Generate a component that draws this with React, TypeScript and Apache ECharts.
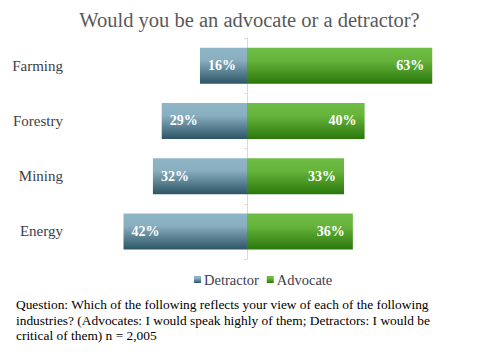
import React, { useEffect, useRef } from "react";
import * as echarts from "echarts";

const categories = ["Farming", "Forestry", "Mining", "Energy"];
const detractor = [16, 29, 32, 42];
const advocate = [63, 40, 33, 36];
const titleText = "Would you be an advocate or a detractor?";
const footnoteLines = [
  "Question: Which of the following reflects your view of each of the following",
  "industries? (Advocates: I would speak highly of them; Detractors: I would be",
  "critical of them) n = 2,005",
];

const FONT = "Liberation Serif";

export default function App() {
  const ref = useRef<HTMLDivElement>(null);
  useEffect(() => {
    document.body.style.margin = "0";
    const chart = echarts.init(ref.current!, null, { renderer: "svg" });
    const cats = [...categories].reverse();
    const det = [...detractor].reverse().map((v) => -v);
    const adv = [...advocate].reverse();
    const detGrad = new echarts.graphic.LinearGradient(0, 0, 0, 1, [
      { offset: 0, color: "#8fb6c7" },
      { offset: 0.35, color: "#88aebf" },
      { offset: 1, color: "#2d5566" },
    ]);
    const advGrad = new echarts.graphic.LinearGradient(0, 0, 0, 1, [
      { offset: 0, color: "#70bd45" },
      { offset: 0.35, color: "#67b43c" },
      { offset: 1, color: "#2a780b" },
    ]);
    chart.setOption({
      animation: false,
      backgroundColor: "#ffffff",
      textStyle: { fontFamily: FONT },
      title: {
        text: titleText,
        left: "center",
        top: 4,
        textStyle: { fontFamily: FONT, fontSize: 20.5, fontWeight: "normal", color: "#595959" },
      },
      legend: {
        data: ["Detractor", "Advocate"],
        left: 189,
        top: 267,
        icon: "rect",
        itemWidth: 7,
        itemHeight: 7,
        itemGap: 8,
        textStyle: { fontFamily: FONT, fontSize: 14.5, color: "#404050", padding: [0, 0, 0, -2] },
      },
      grid: { left: 100, right: 16.8, top: 38, bottom: 105, containLabel: false },
      xAxis: { type: "value", min: -50, max: 80, show: false },
      yAxis: [
        {
          type: "category",
          data: cats,
          position: "left",
          axisLine: { show: false, onZero: false },
          axisTick: { show: false },
          axisLabel: { margin: 37, fontFamily: FONT, fontSize: 15, color: "#404048" },
        },
        {
          type: "category",
          data: cats,
          position: "left",
          axisLine: { show: true, onZero: true, lineStyle: { color: "#d9d9d9", width: 1 } },
          axisTick: { show: true, length: 3, lineStyle: { color: "#d9d9d9" } },
          axisLabel: { show: false },
        },
      ],
      series: [
        {
          name: "Detractor",
          type: "bar",
          data: det,
          barWidth: 36,
          barGap: "-100%",
          itemStyle: { color: detGrad },
          label: {
            show: true,
            position: "insideLeft",
            distance: 8,
            formatter: (p: any) => Math.abs(p.value) + "%",
            fontFamily: FONT,
            fontSize: 14,
            fontWeight: "bold",
            color: "#ffffff",
          },
        },
        {
          name: "Advocate",
          type: "bar",
          data: adv,
          barWidth: 36,
          barGap: "-100%",
          itemStyle: { color: advGrad },
          label: {
            show: true,
            position: "insideRight",
            distance: 8,
            formatter: (p: any) => p.value + "%",
            fontFamily: FONT,
            fontSize: 14,
            fontWeight: "bold",
            color: "#ffffff",
          },
        },
      ],
      graphic: [
        {
          type: "text",
          left: 16,
          top: 297,
          style: {
            text: footnoteLines.join("\n"),
            fontFamily: FONT,
            fontSize: 13.4,
            lineHeight: 15.5,
            fill: "#000000",
          },
        },
      ],
    });
    return () => chart.dispose();
  }, []);
  return <div ref={ref} style={{ width: 499, height: 364 }} />;
}
